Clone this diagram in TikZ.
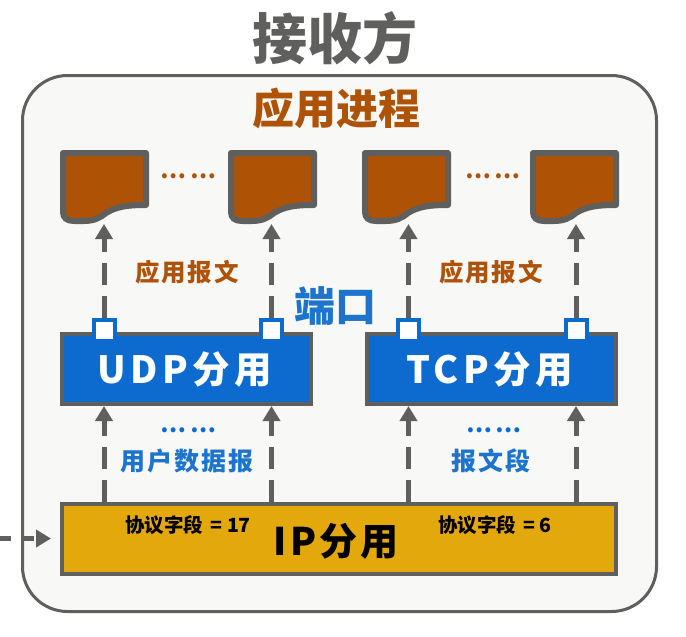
\documentclass[tikz,border=0pt]{standalone}
\usepackage{fontspec}
\usepackage{xcolor}
\setmainfont{Noto Sans CJK SC}
\newfontfamily\spaced[LetterSpace=8]{Noto Sans CJK SC}
\newfontfamily\wide[LetterSpace=12]{Noto Sans CJK SC}
\usetikzlibrary{arrows.meta}

\definecolor{linegray}{HTML}{5F5F5D}
\definecolor{rust}{HTML}{AE5206}
\definecolor{blockblue}{HTML}{0D6BCF}
\definecolor{textblue}{HTML}{1C74CC}
\definecolor{amber}{HTML}{E3A80B}
\definecolor{panel}{HTML}{F8F8F6}
\newcommand{\dotgroups}{…\hspace{4pt}…}

\begin{document}
\begin{tikzpicture}[x=1pt, y=-1pt]
        % Define block styles
        \tikzstyle{panelbox} = [rectangle, draw=linegray, line width=3pt, fill=panel, rounded corners=45pt,
                                minimum width=634pt, minimum height=536pt, inner sep=0pt]
        \tikzstyle{block} = [rectangle, draw=linegray, line width=4pt, inner sep=0pt, minimum height=70pt, minimum width=249pt]
        \tikzstyle{port} = [rectangle, draw=blockblue, line width=4pt, fill=white, minimum size=21pt, inner sep=0pt]
        \tikzstyle{sheet} = [rectangle, minimum width=89pt, minimum height=74pt, inner sep=0pt, outer sep=0pt]
        \tikzstyle{sheetline} = [draw=linegray, line width=6pt, fill=rust, line join=round]
        \tikzstyle{arrow} = [line width=5pt, linegray, -{Triangle[length=15pt, width=17pt]}, dash pattern=on 22pt off 11pt]
        \tikzstyle{rustlabel} = [text=rust, font=\spaced\bfseries\fontsize{24.5}{24.5}\selectfont, inner sep=0pt]
        \tikzstyle{bluelabel} = [text=textblue, font=\spaced\bfseries\fontsize{25}{25}\selectfont, inner sep=0pt]
        \tikzstyle{fieldlabel} = [text=black, font=\bfseries\fontsize{19.5}{19.5}\selectfont, inner sep=0pt]
        \tikzstyle{dotlabel} = [inner sep=0pt, font=\bfseries\fontsize{23}{23}\selectfont]

        \useasboundingbox (0,0) rectangle (686,637);
        \fill[white] (0,0) rectangle (686,637);

        % Panel and headings
        \node (receiver) [panelbox] at (339.5,343.5) {};
        \node (title) [text=linegray, inner sep=0pt, font=\bfseries\fontsize{55}{55}\selectfont] at (335,38) {接收方};
        \node (process) [text=rust, inner sep=0pt, font=\bfseries\fontsize{42}{42}\selectfont] at (336,108) {应用进程};

        % Message sheets
        \foreach \name/\xpos in {sheetA/60, sheetB/228, sheetC/362, sheetD/530} {
            \node (\name) [sheet] at (\xpos+44.5,187) {};
            \draw[sheetline, shift={(\xpos,0)}] (3,153) -- (86,153) -- (86,205)
                .. controls (66,205) and (56,207) .. (46,213)
                .. controls (40,218) and (34,221) .. (24,221)
                -- (14,221) .. controls (7,221) and (3,218) .. (3,212) -- cycle;
        }
        \node (dotsA) [dotlabel, text=rust] at (188.5,176) {\dotgroups};
        \node (dotsB) [dotlabel, text=rust] at (493,176) {\dotgroups};

        % Demultiplexing blocks
        \node (udp) [block, fill=blockblue, text=white, font=\wide\bfseries\fontsize{37.5}{37.5}\selectfont] at (186.5,369) {UDP分用\hspace*{4pt}};
        \node (tcp) [block, fill=blockblue, text=white, font=\wide\bfseries\fontsize{37.5}{37.5}\selectfont] at (491.5,369) {TCP分用\hspace*{4pt}};
        \node (ip) [block, minimum width=554pt, fill=amber] at (339,538.5) {};
        \node (iplabel) [text=black, inner sep=0pt, font=\spaced\bfseries\fontsize{38}{38}\selectfont] at (336,541) {IP分用};

        % Ports
        \node (portA) [port] at (104,330) {};
        \node (portB) [port] at (271.5,330) {};
        \node (portC) [port] at (408.5,330) {};
        \node (portD) [port] at (576,330) {};

        % Labels
        \node (msgA) [rustlabel] at (187,272) {应用报文};
        \node (msgB) [rustlabel] at (491,272) {应用报文};
        \node (ports) [text=textblue, inner sep=0pt, font=\bfseries\fontsize{41}{41}\selectfont] at (335,306) {端口};
        \node (dotsC) [dotlabel, text=blockblue] at (188.5,430) {\dotgroups};
        \node (dotsD) [dotlabel, text=blockblue] at (494,430) {\dotgroups};
        \node (datagram) [bluelabel] at (187,461) {用户数据报};
        \node (segment) [bluelabel] at (491,461) {报文段};
        \node (fieldA) [fieldlabel] at (188,525) {协议字段\hspace{3pt} = 17};
        \node (fieldB) [fieldlabel] at (495,525) {协议字段\hspace{3pt} = 6};
        \coordinate (incoming) at (0,538.5);

        % Arrows
        \foreach \port/\sheet/\demux in {portA/sheetA/udp, portB/sheetB/udp, portC/sheetC/tcp, portD/sheetD/tcp} {
            \draw [arrow] (\port.north) -- (\port.north |- \sheet.south);
            \draw [arrow] (ip.north -| \port) -- (\demux.south -| \port);
        }
        \draw [arrow, dash pattern=on 11pt off 12pt, shorten >=9pt] (incoming) -- (ip.west);
    \end{tikzpicture}
\end{document}
